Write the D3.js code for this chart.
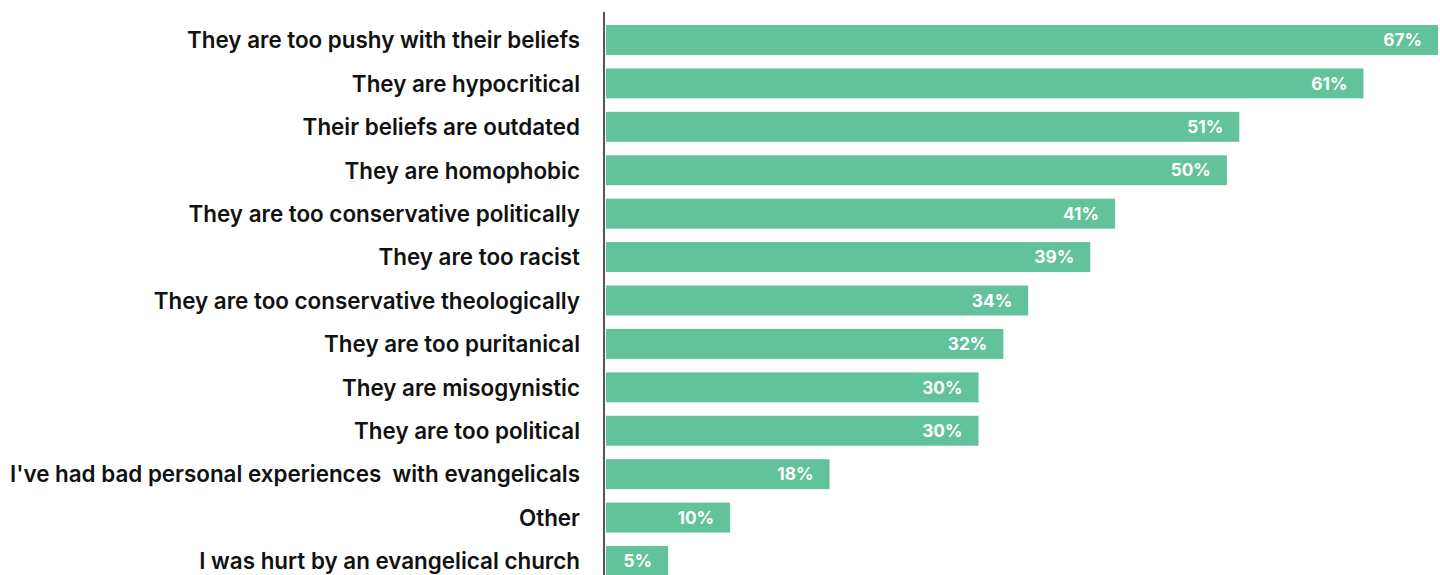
<!DOCTYPE html>
<html>
<head>
<meta charset="utf-8">
<script src="https://cdn.jsdelivr.net/npm/d3@7"></script>
<style>
  body { margin: 0; background: #fff; }
  svg { display: block; }
</style>
</head>
<body>
<svg width="1440" height="575"></svg>
<script>
let width = 1440, height = 575;

let reasons = [
  "They are too pushy with their beliefs",
  "They are hypocritical",
  "Their beliefs are outdated",
  "They are homophobic",
  "They are too conservative politically",
  "They are too racist",
  "They are too conservative theologically",
  "They are too puritanical",
  "They are misogynistic",
  "They are too political",
  "I've had bad personal experiences  with evangelicals",
  "Other",
  "I was hurt by an evangelical church"
];
let percents = [67, 61, 51, 50, 41, 39, 34, 32, 30, 30, 18, 10, 5];

let rows = reasons.map((r, i) => ({ reason: r, value: percents[i] }));

let svg = d3.select('svg');

let x = d3.scaleLinear().domain([0, 67]).range([606, 1438]);
// step 43.42, band 30, first bar top at 25
let y = d3.scaleBand()
  .domain(reasons)
  .range([18.27, 18.27 + 43.42 * 13])
  .paddingInner(0.31)
  .paddingOuter(0.155);

// bars
svg.append('g')
  .selectAll('rect')
  .data(rows)
  .join('rect')
  .attr('x', x(0))
  .attr('y', d => y(d.reason))
  .attr('width', d => x(d.value) - x(0))
  .attr('height', y.bandwidth())
  .attr('fill', '#62c29c');

// value labels
svg.append('g')
  .selectAll('text')
  .data(rows)
  .join('text')
  .attr('x', d => x(d.value) - 16)
  .attr('y', d => y(d.reason) + y.bandwidth() / 2)
  .attr('dy', '0.36em')
  .attr('text-anchor', 'end')
  .attr('fill', '#fff')
  .attr('font-family', 'Inter, Liberation Sans, sans-serif')
  .attr('font-weight', 700)
  .attr('font-size', 17.3)
  .text(d => d.value + '%');

// category axis
let axis = svg.append('g')
  .attr('transform', 'translate(604,0)')
  .call(d3.axisLeft(y).tickSize(0).tickPadding(24));

axis.select('.domain').remove();
axis.append('line')
  .attr('y1', 12).attr('y2', height)
  .attr('stroke', '#555')
  .attr('stroke-width', 2);
axis.selectAll('text')
  .attr('fill', '#111')
  .attr('dy', '0.37em')
  .attr('font-family', 'Inter, Liberation Sans, sans-serif')
  .attr('font-weight', 560)
  .attr('font-size', 22.4)
  .style('white-space', 'pre');
</script>
</body>
</html>
